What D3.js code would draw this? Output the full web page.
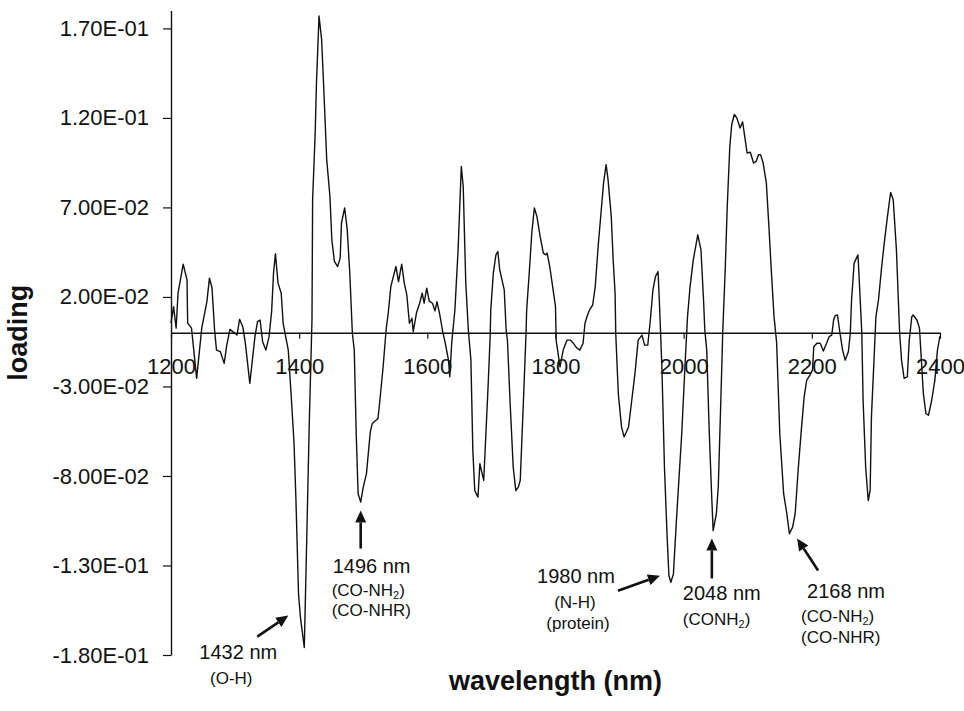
<!DOCTYPE html>
<html>
<head>
<meta charset="utf-8">
<script src="https://cdn.jsdelivr.net/npm/d3@7"></script>
<style>
  body { margin: 0; background: #fff; }
  text { font-family: "Liberation Sans", Arial, sans-serif; fill: #111; }
</style>
</head>
<body>
<svg id="chart"></svg>
<script>
// wavelength (nm)
const wavelengths = [
  1200,1204,1208,1211,1219,1225,1226,1232,1240,1248,
  1256,1260,1264,1268,1271,1277,1283,1287,1292,1303,
  1307,1312,1316,1323,1331,1335,1339,1343,1348,1353,
  1357,1360,1363,1367,1372,1375,1383,1388,1392,1395,
  1399,1402,1408,1412,1416,1420,1421,1425,1427,1431,
  1435,1438,1443,1448,1451,1455,1460,1464,1466,1471,
  1475,1479,1483,1486,1489,1492,1496,1500,1505,1511,
  1514,1523,1526,1531,1536,1539,1543,1551,1555,1560,
  1564,1568,1572,1576,1578,1583,1588,1592,1595,1599,
  1603,1608,1612,1615,1619,1624,1628,1633,1635,1638,
  1643,1648,1653,1656,1660,1664,1668,1671,1674,1679,
  1682,1685,1688,1695,1698,1699,1703,1707,1710,1713,
  1720,1723,1725,1729,1734,1738,1742,1745,1750,1754,
  1755,1759,1763,1767,1771,1776,1781,1785,1787,1791,
  1797,1800,1801,
  1807,1812,1818,1823,1828,1833,
  1838,1843,1846,1850,1853,1858,1862,1867,1871,1875,
  1879,1882,1887,1890,1893,1894,1898,1903,1907,1914,
  1919,1924,1929,1935,1939,1944,1948,1952,1956,1960,
  1962,1964,1966,1970,1974,1977,1980,1984,1989,1997,
  2002,2006,2010,2015,2022,2027,2031,2033,2036,2040,
  2044,2046,2051,2054,2058,2061,2065,2068,2072,2075,
  2079,2083,2088,2092,2096,2099,2104,2109,2113,2117,
  2120,2124,2129,2133,2137,2141,2145,2150,2156,2161,
  2165,2170,2174,2179,2184,2188,2192,2197,2201,2203,
  2208,2213,2218,2223,2227,2231,2234,2236,2240,2244,
  2248,2252,2257,2260,2262,2266,2272,2275,2278,2280,
  2284,2288,2291,2293,2297,2300,2304,2309,2313,2318,
  2323,2327,2332,2335,2337,2340,2344,2349,2352,2356,
  2358,2364,2368,2370,2374,2378,2382,2387,2392,2396,2400
];

// loading values, same order
const loadings = [
  0.0054,0.0146,0.0026,0.0222,0.0383,0.0295,0.0054,0.0026,-0.0255,0.0026,
  0.0174,0.0305,0.0250,0.0015,-0.0097,-0.0106,-0.0171,-0.0069,0.0019,-0.0013,
  0.0075,0.0034,-0.0058,-0.0283,-0.0022,0.0062,0.0071,-0.0050,-0.0097,-0.0022,
  0.0118,0.0333,0.0441,0.0277,0.0221,0.0053,-0.0097,-0.0377,-0.0619,-0.0937,
  -0.1459,-0.1590,-0.1758,-0.1121,-0.0470,0.0071,0.0743,0.1116,0.1396,0.1769,
  0.1639,0.1396,0.0967,0.0761,0.0519,0.0398,0.0370,0.0417,0.0613,0.0697,
  0.0575,0.0333,-0.0003,-0.0097,-0.0563,-0.0899,-0.0946,-0.0862,-0.0787,-0.0554,
  -0.0507,-0.0479,-0.0377,-0.0190,0.0029,0.0109,0.0258,0.0370,0.0286,0.0383,
  0.0277,0.0211,0.0053,0.0081,0.0006,0.0110,0.0165,0.0221,0.0165,0.0249,
  0.0177,0.0165,0.0122,0.0174,0.0109,0.0006,-0.0058,-0.0153,-0.0246,-0.0059,
  0.0127,0.0463,0.0929,0.0817,0.0277,0.0015,-0.0153,-0.0657,-0.0881,-0.0918,
  -0.0731,-0.0778,-0.0825,-0.0283,-0.0022,0.0127,0.0333,0.0435,0.0454,0.0351,
  0.0239,0.0015,-0.0041,-0.0377,-0.0750,-0.0881,-0.0862,-0.0825,-0.0377,-0.0003,
  0.0127,0.0333,0.0557,0.0697,0.0650,0.0538,0.0445,0.0435,0.0445,0.0370,
  0.0221,0.0146,-0.0041,
  -0.0190,-0.0097,-0.0041,-0.0041,-0.0059,-0.0084,
  -0.0097,-0.0059,0.0053,0.0099,0.0127,0.0155,0.0258,0.0501,0.0669,0.0837,
  0.0939,0.0855,0.0650,0.0407,0.0221,-0.0003,-0.0339,-0.0526,-0.0582,-0.0526,
  -0.0377,-0.0227,-0.0041,-0.0013,-0.0069,-0.0069,0.0071,0.0239,0.0314,0.0342,
  0.0183,-0.0003,-0.0190,-0.0750,-0.1123,-0.1357,-0.1394,-0.1347,-0.1030,-0.0563,
  -0.0190,0.0090,0.0258,0.0407,0.0547,0.0463,0.0183,0.0015,-0.0097,-0.0563,
  -0.0937,-0.1105,-0.1011,-0.0862,-0.0377,0.0006,0.0370,0.0705,0.1041,0.1163,
  0.1219,0.1200,0.1144,0.1178,0.1079,0.1004,0.1008,0.0948,0.0957,0.0995,
  0.0995,0.0948,0.0837,0.0594,0.0333,0.0090,-0.0052,-0.0563,-0.0899,-0.1011,
  -0.1123,-0.1086,-0.1011,-0.0750,-0.0526,-0.0358,-0.0265,-0.0237,-0.0209,-0.0078,
  -0.0059,-0.0059,-0.0102,-0.0059,-0.0022,-0.0013,0.0071,0.0094,0.0099,-0.0003,
  -0.0097,-0.0153,-0.0106,-0.0003,0.0183,0.0389,0.0435,0.0221,-0.0003,-0.0377,
  -0.0750,-0.0937,-0.0881,-0.0470,-0.0153,0.0090,0.0183,0.0370,0.0501,0.0650,
  0.0784,0.0743,0.0463,0.0183,0.0000,-0.0153,-0.0255,-0.0246,-0.0041,0.0090,
  0.0099,0.0071,0.0025,-0.0097,-0.0339,-0.0451,-0.0461,-0.0377,-0.0265,-0.0097,-0.0018
];

const xTicks = [1200, 1400, 1600, 1800, 2000, 2200, 2400];
const yTicks = [-0.18, -0.13, -0.08, -0.03, 0.02, 0.07, 0.12, 0.17];

// band annotations: label lines ("_2" marks a subscript) and the point the arrow hits
const bandLabels = [
  ["1432 nm", "(O-H)"],
  ["1496 nm", "(CO-NH_2)", "(CO-NHR)"],
  ["1980 nm", "(N-H)", "(protein)"],
  ["2048 nm", "(CONH_2)"],
  ["2168 nm", "(CO-NH_2)", "(CO-NHR)"]
];
const bandTipsNm = [1383, 1496, 1963, 2044, 2177];
const bandTipsLoading = [-0.158, -0.0993, -0.1357, -0.1149, -0.1149];

const width = 964, height = 711;
const plot = { left: 171, right: 940, top: 10.5, bottom: 655 };

const svg = d3.select("#chart")
  .attr("width", width)
  .attr("height", height);

const x = d3.scaleLinear().domain([1200, 2400]).range([plot.left, plot.right]);
const y = d3.scaleLinear().domain([-0.18, 0.18]).range([plot.bottom, plot.top]);

// 1.70E-01 style labels
const sci = v => {
  const [m, e] = v.toExponential(2).split("e");
  const n = Math.abs(+e);
  return m + "E" + (+e < 0 ? "-" : "+") + (n < 10 ? "0" + n : n);
};

// y axis
const yAxis = svg.append("g")
  .attr("transform", `translate(${plot.left},0)`)
  .call(d3.axisLeft(y).tickValues(yTicks).tickFormat(sci)
    .tickSize(8).tickSizeOuter(0).tickPadding(14));
yAxis.select(".domain").attr("stroke", "#111").attr("stroke-width", 1.4);
yAxis.selectAll(".tick line").attr("stroke", "#111").attr("stroke-width", 1.2);
yAxis.selectAll(".tick text").style("font-size", "22px")
  .style("font-family", "'Liberation Sans', Arial, sans-serif").attr("fill", "#111");

// x axis sits on zero
const xAxis = svg.append("g")
  .attr("transform", `translate(0,${y(0)})`)
  .call(d3.axisBottom(x).tickValues(xTicks).tickFormat(d3.format("d"))
    .tickSize(6).tickSizeOuter(0).tickPadding(20));
xAxis.select(".domain").attr("stroke", "#111").attr("stroke-width", 1.4);
xAxis.selectAll(".tick line").attr("stroke", "#111").attr("stroke-width", 1.2);
xAxis.selectAll(".tick text").style("font-size", "22px")
  .style("font-family", "'Liberation Sans', Arial, sans-serif").attr("fill", "#111");

// spectrum
const n = Math.min(wavelengths.length, loadings.length);
const series = d3.range(n).map(i => ({ w: wavelengths[i], v: loadings[i] }));

svg.append("path")
  .datum(series)
  .attr("fill", "none")
  .attr("stroke", "#111")
  .attr("stroke-width", 1.4)
  .attr("stroke-linejoin", "round")
  .attr("d", d3.line().x(d => x(d.w)).y(d => y(d.v)));

// axis titles
svg.append("text")
  .attr("x", (plot.left + plot.right) / 2)
  .attr("y", 690)
  .attr("text-anchor", "middle")
  .style("font-size", "27px")
  .style("font-weight", "700")
  .text("wavelength (nm)");

svg.append("text")
  .attr("transform", `translate(27,${(plot.top + plot.bottom) / 2}) rotate(-90)`)
  .attr("text-anchor", "middle")
  .style("font-size", "27px")
  .style("font-weight", "700")
  .text("loading");

// annotation layout (px offsets from the arrow tip)
const bandLayout = [
  { tail: [-31, 21], anchor: "middle", lines: [[-50, 43], [-57, 68]] },
  { tail: [0, 38], anchor: "start", lines: [[-28, 62], [-29, 85], [-29, 105]] },
  { tail: [-42, 15], anchor: "middle", lines: [[-84, 7], [-85, 32], [-82, 53]] },
  { tail: [0, 40], anchor: "start", lines: [[-29, 62], [-29, 87]] },
  { tail: [21, 32], anchor: "start", lines: [[10, 60], [4, 84], [4, 105]] }
];

bandLabels.forEach((lines, i) => {
  const tx = x(bandTipsNm[i]), ty = y(bandTipsLoading[i]);
  const L = bandLayout[i];
  const sx = tx + L.tail[0], sy = ty + L.tail[1];
  const ang = Math.atan2(ty - sy, tx - sx);
  const headLen = 12, headW = 5.5;
  const bx = tx - headLen * Math.cos(ang), by = ty - headLen * Math.sin(ang);

  const g = svg.append("g");
  g.append("line")
    .attr("x1", sx).attr("y1", sy)
    .attr("x2", bx).attr("y2", by)
    .attr("stroke", "#111")
    .attr("stroke-width", 2.6);

  const px = -Math.sin(ang), py = Math.cos(ang);
  g.append("path")
    .attr("d", `M${tx},${ty}L${bx + px * headW},${by + py * headW}L${bx - px * headW},${by - py * headW}Z`)
    .attr("fill", "#111");

  lines.forEach((line, j) => {
    const t = g.append("text")
      .attr("x", tx + L.lines[j][0])
      .attr("y", ty + L.lines[j][1])
      .attr("text-anchor", L.anchor)
      .style("font-size", j === 0 ? "20px" : "17px");
    let shift = 0;
    line.split(/_(\d)/).forEach((part, k) => {
      if (!part) return;
      if (k % 2 === 1) {
        t.append("tspan").attr("dy", 3).style("font-size", "11px").text(part);
        shift = -3;
      } else {
        t.append("tspan").attr("dy", shift).text(part);
        shift = 0;
      }
    });
  });
});
</script>
</body>
</html>
